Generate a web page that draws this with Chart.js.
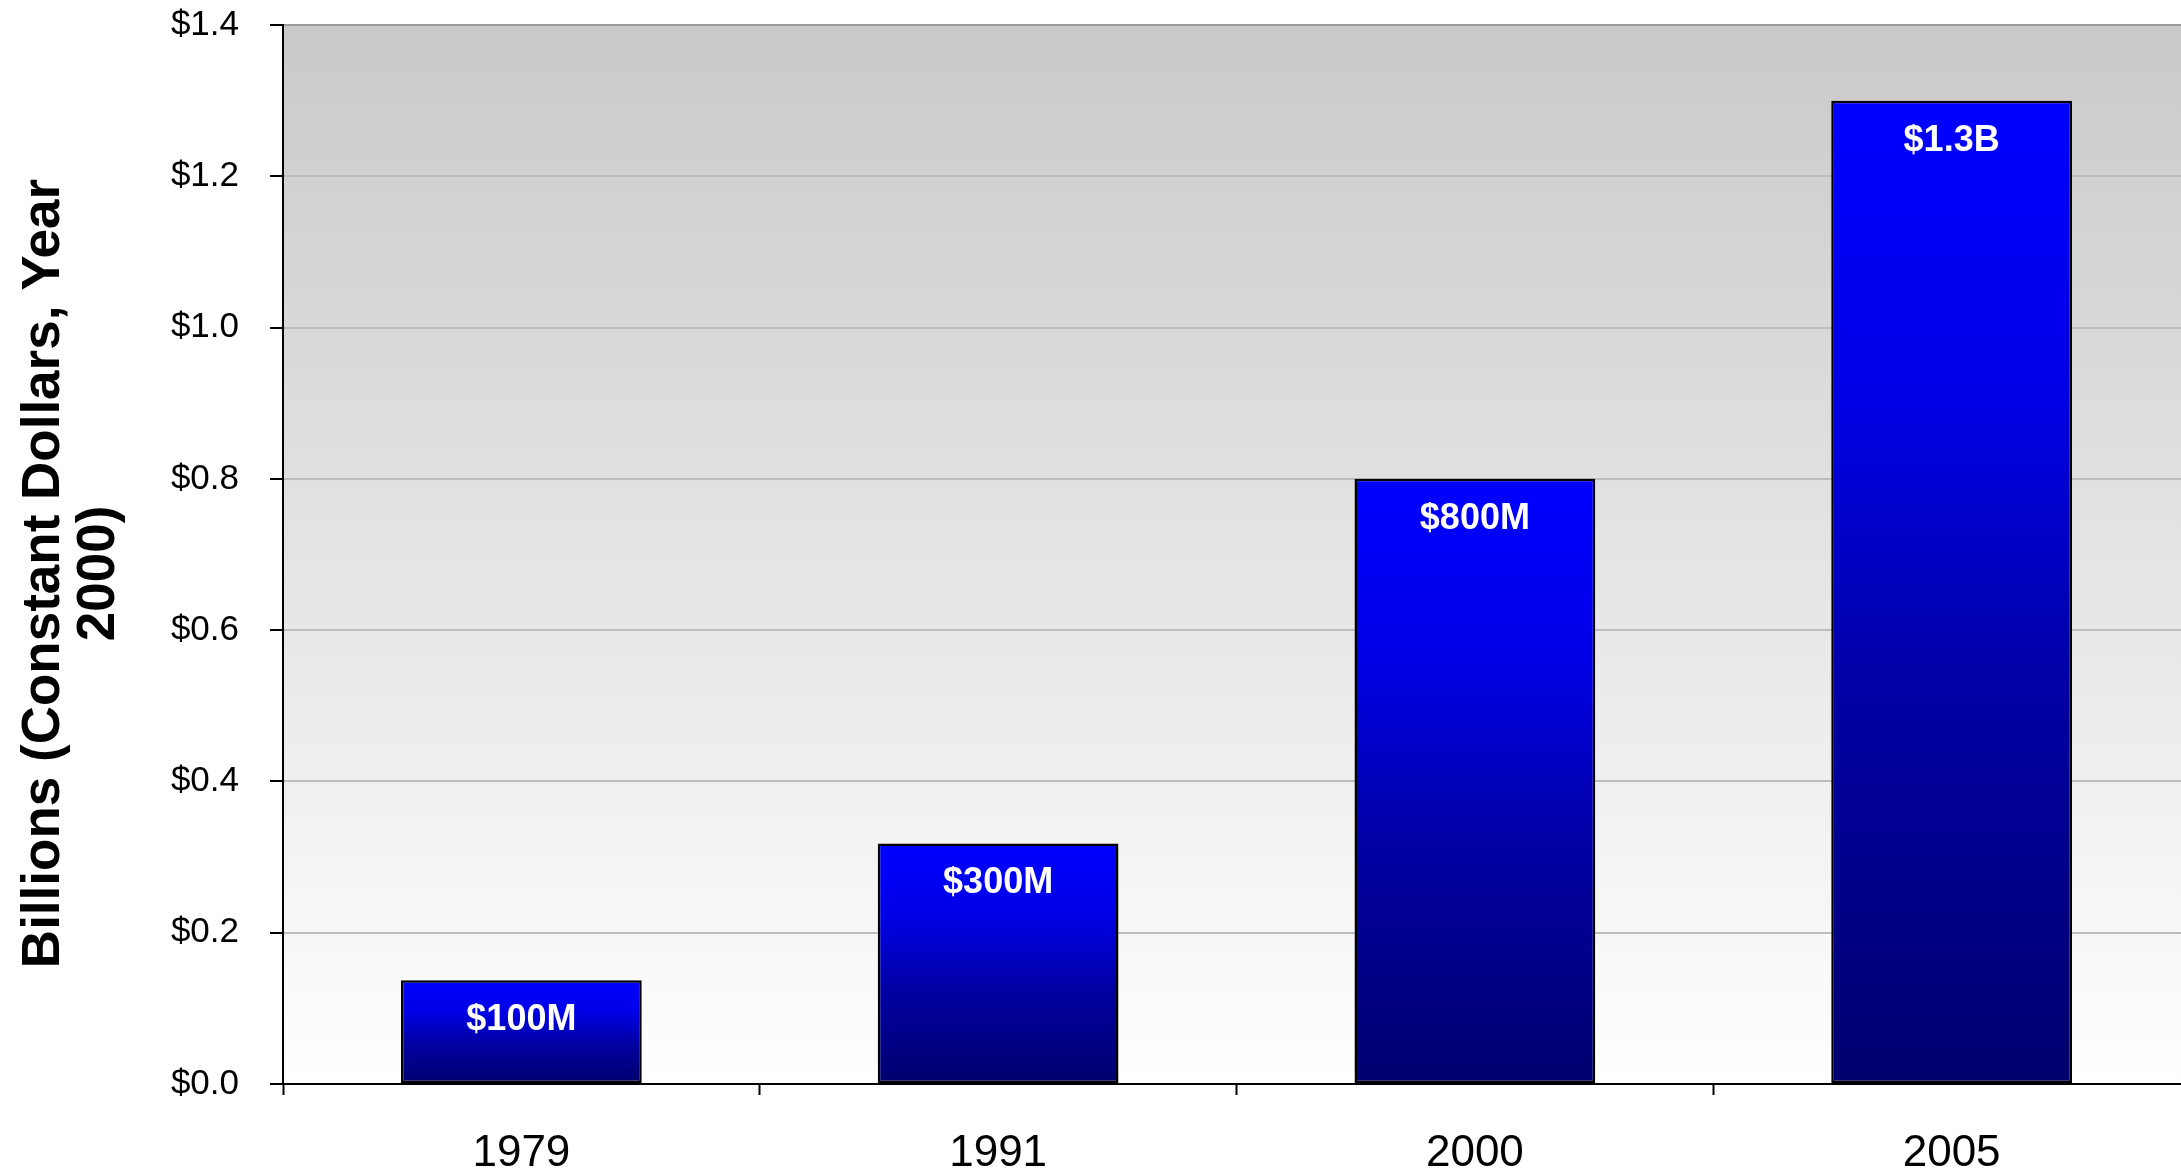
<!DOCTYPE html>
<html>
<head>
<meta charset="utf-8">
<script src="https://cdn.jsdelivr.net/npm/chart.js@4/dist/chart.umd.min.js"></script>
<style>
html,body{margin:0;padding:0;background:#fff;overflow:hidden;}
#wrap{width:2200px;height:1176px;}
</style>
</head>
<body>
<div id="wrap"><canvas id="c" width="2200" height="1176"></canvas></div>
<script>
const categories = ['1979', '1991', '2000', '2005'];
const values = [0.137, 0.318, 0.800, 1.300];
const valueLabels = ['$100M', '$300M', '$800M', '$1.3B'];
const yTitle = ['Billions (Constant Dollars, Year', '2000)'];
const FONT = "'Liberation Sans', Arial, sans-serif";

const bgPlugin = {
  id: 'plotBg',
  beforeDraw(chart) {
    const {ctx, chartArea: a} = chart;
    const g = ctx.createLinearGradient(0, a.top, 0, a.bottom);
    g.addColorStop(0, '#c9c9c9');
    g.addColorStop(1, '#ffffff');
    ctx.save();
    ctx.fillStyle = g;
    ctx.fillRect(a.left, a.top, a.right - a.left, a.bottom - a.top);
    ctx.restore();
  }
};

const labelPlugin = {
  id: 'barLabels',
  afterDatasetsDraw(chart) {
    const {ctx} = chart;
    const meta = chart.getDatasetMeta(0);
    ctx.save();
    ctx.fillStyle = '#ffffff';
    ctx.font = 'bold 36px ' + FONT;
    ctx.textAlign = 'center';
    ctx.textBaseline = 'middle';
    meta.data.forEach((el, i) => {
      ctx.fillText(valueLabels[i], el.x, el.y + 40);
    });
    ctx.restore();
  }
};

const yTitlePlugin = {
  id: 'yTitle',
  afterDraw(chart) {
    const {ctx, chartArea: a} = chart;
    const cy = (a.top + a.bottom) / 2 + 19;
    ctx.save();
    ctx.translate(44, cy);
    ctx.rotate(-Math.PI / 2);
    ctx.fillStyle = '#000000';
    ctx.font = 'bold 53px ' + FONT;
    ctx.textAlign = 'center';
    ctx.textBaseline = 'middle';
    yTitle.forEach((line, i) => ctx.fillText(line, 0, i * 55));
    ctx.restore();
  }
};

new Chart(document.getElementById('c'), {
  type: 'bar',
  data: {
    labels: categories,
    datasets: [{
      data: values,
      backgroundColor(ctx) {
        if (ctx.type !== 'data') return '#0000ff';
        const y = ctx.chart.scales.y;
        if (!y) return '#0000ff';
        const top = y.getPixelForValue(ctx.raw);
        const bot = y.getPixelForValue(0);
        if (!isFinite(top) || !isFinite(bot) || top === bot) return '#0000ff';
        const g = ctx.chart.ctx.createLinearGradient(0, top, 0, bot);
        g.addColorStop(0, '#0000ff');
        g.addColorStop(0.3, '#0000e6');
        g.addColorStop(0.6, '#0000a4');
        g.addColorStop(1, '#00006e');
        return g;
      },
      borderColor: '#000000',
      borderWidth: 2.5,
      borderSkipped: false,
      barPercentage: 0.505,
      categoryPercentage: 1.0
    }]
  },
  options: {
    responsive: false,
    animation: false,
    devicePixelRatio: 1,
    layout: { padding: { top: 25, right: 10, bottom: 0, left: 0 } },
    plugins: {
      legend: { display: false },
      tooltip: { enabled: false }
    },
    scales: {
      x: {
        offset: true,
        afterFit(scale) { scale.height = 92; },
        grid: {
          offset: true,
          drawOnChartArea: false,
          drawTicks: true,
          tickLength: 11,
          tickColor: '#000000',
          tickWidth: 2
        },
        border: { display: true, color: '#000000', width: 2 },
        ticks: {
          color: '#000000',
          font: { family: FONT, size: 44 },
          padding: 32,
          maxRotation: 0
        }
      },
      y: {
        min: 0,
        max: 1.4,
        afterFit(scale) {
          scale.width = 283;
          scale.paddingTop = 0;
          scale.paddingBottom = 0;
        },
        grid: {
          color(ctx) {
            if (ctx.tick && Math.abs(ctx.tick.value - 1.4) < 1e-6) return '#9c9c9c';
            return '#bdbdbd';
          },
          lineWidth: 2,
          drawTicks: true,
          tickLength: 13,
          tickColor: '#000000',
          tickWidth: 2
        },
        border: { display: true, color: '#000000', width: 2 },
        ticks: {
          stepSize: 0.2,
          color: '#000000',
          font: { family: FONT, size: 35 },
          padding: 31,
          callback(v) { return '$' + Number(v).toFixed(1); }
        },
        title: { display: false }
      }
    }
  },
  plugins: [bgPlugin, labelPlugin, yTitlePlugin]
});
</script>
</body>
</html>
